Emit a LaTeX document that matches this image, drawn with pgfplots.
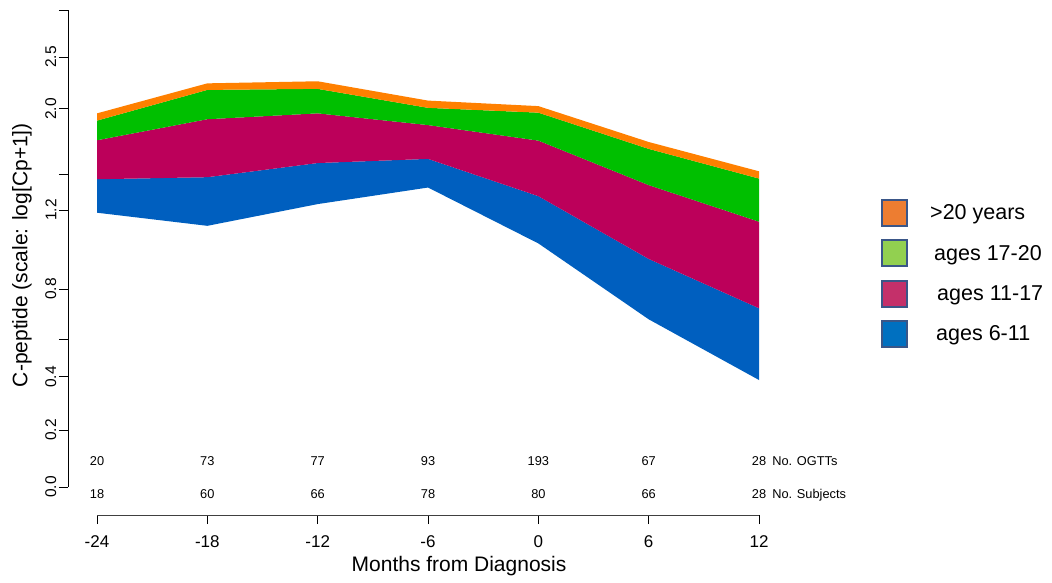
\documentclass[border=0pt]{standalone}
\usepackage{fontspec}
\setmainfont{Liberation Sans}
\usepackage{pgfplots}
\pgfplotsset{compat=1.18}
\usepgfplotslibrary{fillbetween}
\usepackage{pgfplotstable}

\definecolor{cOrange}{HTML}{FF8000}
\definecolor{cGreen}{HTML}{00BF00}
\definecolor{cMag}{HTML}{BC005A}
\definecolor{cBlue}{HTML}{005FBF}
\definecolor{lOrange}{HTML}{ED7D31}
\definecolor{lGreen}{HTML}{92D050}
\definecolor{lMag}{HTML}{C4306A}
\definecolor{lBlue}{HTML}{0070C0}
\definecolor{lBorder}{HTML}{3A5688}

% band boundaries on the log[Cp+1] scale (bottom to top)
\pgfplotstableread{
x    b0    b1    b2    b3    b4
-24  0.795 0.892 1.005 1.062 1.083
-18  0.757 0.898 1.066 1.151 1.170
-12  0.820 0.939 1.083 1.154 1.176
-6   0.868 0.951 1.049 1.099 1.120
0    0.706 0.843 1.004 1.085 1.104
6    0.486 0.661 0.875 0.980 1.000
12   0.310 0.518 0.769 0.894 0.915
}\bands

\begin{document}
\begin{tikzpicture}
\begin{axis}[
  at={(68pt,67pt)}, anchor=south west,
  scale only axis, width=764.6pt, height=505pt,
  xmin=-25.577, xmax=16, ymin=-0.0812, ymax=1.3826,
  axis x line*=bottom, axis y line*=left,
  axis line style={draw=none},
  clip=false,
  xtick={-24,-18,-12,-6,0,6,12},
  xticklabels={-24,-18,-12,-6,0,6,12},
  ytick={0,0.165,0.319,0.429,0.574,0.803,0.907,1.096,1.246,1.3826},
  yticklabels={0.0,0.2,0.4,{},0.8,1.2,{},2.0,2.5,{}},
  tick align=outside,
  major tick length=9pt,
  tick style={black, line width=0.9pt},
  /pgf/number format/assume math mode=true,
  xticklabel style={font=\fontsize{17}{17}\selectfont, anchor=base, inner sep=0pt, yshift=-23pt},
  yticklabel style={xshift=-2.5pt, rotate=90, anchor=south, inner sep=0pt, font=\fontsize{15.5}{15.5}\selectfont},
  legend cell align=left,
  legend style={at={(1.0633,0.6376)}, anchor=north west, draw=none, fill=none,
    inner sep=0pt, outer sep=0pt, row sep=0pt,
    font=\fontsize{21.5}{24}\selectfont,
    nodes={inner sep=0pt, minimum height=40.3pt, anchor=west}},
  legend image code/.code={\draw[#1, line width=2pt] (1pt,-13pt) rectangle (26pt,13pt); \path (49pt,0pt);},
]
\addlegendimage{fill=lOrange, draw=lBorder}
\addlegendentry{>20 years}
\addlegendimage{fill=lGreen, draw=lBorder}
\addlegendentry{\hspace{4pt}ages 17-20}
\addlegendimage{fill=lMag, draw=lBorder}
\addlegendentry{\hspace{7pt}ages 11-17}
\addlegendimage{fill=lBlue, draw=lBorder}
\addlegendentry{\hspace{6pt}ages 6-11}

\addplot[draw=none, name path=b0, forget plot] table[x=x, y=b0] {\bands};
\addplot[draw=none, name path=b1, forget plot] table[x=x, y=b1] {\bands};
\addplot[draw=none, name path=b2, forget plot] table[x=x, y=b2] {\bands};
\addplot[draw=none, name path=b3, forget plot] table[x=x, y=b3] {\bands};
\addplot[draw=none, name path=b4, forget plot] table[x=x, y=b4] {\bands};
\addplot[fill=cBlue, draw=none, forget plot] fill between[of=b1 and b0];
\addplot[fill=cMag, draw=none, forget plot] fill between[of=b2 and b1];
\addplot[fill=cGreen, draw=none, forget plot] fill between[of=b3 and b2];
\addplot[fill=cOrange, draw=none, forget plot] fill between[of=b4 and b3];

% axis lines (R style, spanning the tick range)
\draw[line width=0.9pt, black!75] (axis cs:-24,-0.0812) -- (axis cs:12,-0.0812);
\draw[line width=0.9pt] (axis cs:-25.577,0) -- (axis cs:-25.577,1.3826);

% counts
\begin{scope}[every node/.style={font=\fontsize{12.8}{12.8}\selectfont, anchor=base, inner sep=0pt}]
\node at (axis cs:-24,0.0609) {20};
\node at (axis cs:-18,0.0609) {73};
\node at (axis cs:-12,0.0609) {77};
\node at (axis cs:-6,0.0609) {93};
\node at (axis cs:0,0.0609) {193};
\node at (axis cs:6,0.0609) {67};
\node at (axis cs:12,0.0609) {28};
\node at (axis cs:-24,-0.0348) {18};
\node at (axis cs:-18,-0.0348) {60};
\node at (axis cs:-12,-0.0348) {66};
\node at (axis cs:-6,-0.0348) {78};
\node at (axis cs:0,-0.0348) {80};
\node at (axis cs:6,-0.0348) {66};
\node at (axis cs:12,-0.0348) {28};
\node[anchor=base west] at (axis cs:12.71,0.0609) {No. OGTTs};
\node[anchor=base west] at (axis cs:12.71,-0.0348) {No. Subjects};
\end{scope}

\node[rotate=90, font=\fontsize{21}{21}\selectfont] at (axis cs:-28.08,0.672) {C-peptide (scale: log[Cp+1])};
\node[anchor=base, font=\fontsize{21}{21}\selectfont] at (axis cs:-4.314,-0.2464) {Months from Diagnosis};
\end{axis}
\pgfresetboundingbox
\path (0pt,0pt) rectangle (1052pt,582pt);
\end{tikzpicture}
\end{document}
